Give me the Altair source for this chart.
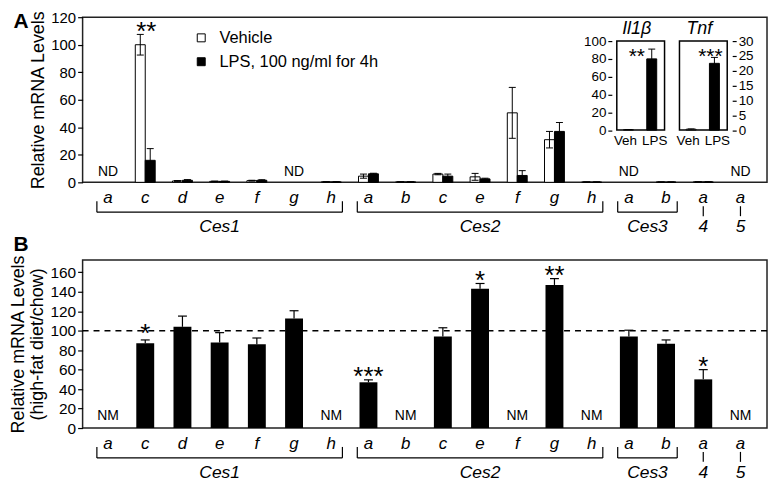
import altair as alt
import pandas as pd

FONT = "Liberation Sans"

# ---------------- data ----------------
LETTERS = ["a", "c", "d", "e", "f", "g", "h",
           "a", "b", "c", "e", "f", "g", "h",
           "a", "b", "a", "a"]
GENES = ["Ces1"] * 7 + ["Ces2"] * 7 + ["Ces3"] * 2 + ["Ces4", "Ces5"]
SERIES = ["Vehicle", "LPS, 100 ng/ml for 4h"]

# Panel A (None = not detected, "ND")
VEHICLE = [None, 100, 1.0, 0.7, 1.2, None, 0.3, 4.5, 0.3, 6.0, 4.0, 50.5, 31.0, 0.2, None, 0.2, 0.3, None]
VEHICLE_ERR = [None, 7.5, 0.3, 0.2, 0.3, None, 0.1, 1.5, 0.1, 0.5, 2.5, 18.5, 6.0, 0.1, None, 0.1, 0.1, None]
LPS = [None, 16.0, 1.5, 0.7, 1.5, None, 0.3, 6.2, 0.3, 4.5, 2.5, 5.0, 37.0, 0.2, None, 0.2, 0.3, None]
LPS_ERR = [None, 8.5, 0.5, 0.2, 0.4, None, 0.1, 0.4, 0.1, 1.5, 0.5, 3.5, 6.5, 0.1, None, 0.1, 0.1, None]
A_STAR_IDX = [1]
A_STAR_TEXT = ["**"]
A_STAR_Y = [114]

# Panel B (None = not measured, "NM")
HFD = [None, 87, 104, 88, 86, 112.5, None, 47, None, 94, 143, None, 147, None, 94, 86.5, 50, None]
HFD_ERR = [None, 3.5, 11, 10, 6.5, 8, None, 2.5, None, 9, 5.5, None, 6.5, None, 6.5, 4, 10, None]
B_STAR_IDX = [1, 7, 10, 12, 16]
B_STAR_TEXT = ["*", "***", "*", "**", "*"]
B_STAR_Y = [104, 60, 158, 163, 70]
REF_LINE = 100

# Insets
INSET_GROUPS = ["Veh", "LPS"]
IL1B = [0.5, 80]
IL1B_ERR = [0.2, 11]
TNF = [0.3, 22.5]
TNF_ERR = [0.1, 2.0]

# ---------------- layout ----------------
W = 688
HA = 166
HB = 169
XDOM = [-0.55, 17.58]
IN_XDOM = [-0.5, 1.55]

idx = list(range(len(LETTERS)))


def xq(field):
    return alt.X(f"{field}:Q", scale=alt.Scale(domain=XDOM, nice=False, zero=False), axis=None)


fill_enc = alt.Fill(
    "series:N",
    scale=alt.Scale(domain=SERIES, range=["white", "black"]),
    legend=alt.Legend(title=None, orient="none", legendX=111, legendY=12.5, symbolType="square",
                      symbolSize=64, symbolStrokeColor="black", symbolStrokeWidth=1,
                      labelFontSize=16.5, labelFont=FONT, labelColor="black", labelOffset=10,
                      rowPadding=7, padding=0),
)


def make_y(domain, values, title, label_size):
    def f(field):
        return alt.Y(f"{field}:Q", scale=alt.Scale(domain=domain, nice=False, zero=True),
                     axis=alt.Axis(values=values, title=title, grid=False, domain=False, tickSize=5,
                                   labelFontSize=label_size, titleFontSize=18, titleLineHeight=20,
                                   labelPadding=2, titlePadding=3, tickColor="black", tickWidth=1.2))
    return f


# group brackets / labels
groups = []
for g in dict.fromkeys(GENES):
    members = [i for i in idx if GENES[i] == g]
    groups.append((g, members[0], members[-1]))
bracket_rows = [dict(start=a - 0.3, end=b + 0.3) for g, a, b in groups if b > a]
bracket_ends = [dict(pos=r["start"]) for r in bracket_rows] + [dict(pos=r["end"]) for r in bracket_rows]
gene_label_rows = [dict(c=(a + b) / 2, t=(g if b > a else g[3:])) for g, a, b in groups]
single_rows = [dict(c=a) for g, a, b in groups if b == a]

letters_df = pd.DataFrame(dict(idx=idx, letter=LETTERS))


def decorations(H, panel_letter, letter_y):
    lt = alt.Chart(letters_df).mark_text(fontSize=17, fontStyle="italic", baseline="middle").encode(
        x=xq("idx"), y=alt.value(H + 16), text="letter:N")
    br = alt.Chart(pd.DataFrame(bracket_rows)).mark_rule(color="black", strokeWidth=1.2).encode(
        x=xq("start"), x2="end:Q", y=alt.value(H + 30))
    be = alt.Chart(pd.DataFrame(bracket_ends)).mark_rule(color="black", strokeWidth=1.2).encode(
        x=xq("pos"), y=alt.value(H + 19), y2=alt.value(H + 30))
    sg = alt.Chart(pd.DataFrame(single_rows)).mark_rule(color="black", strokeWidth=1.2).encode(
        x=xq("c"), y=alt.value(H + 24), y2=alt.value(H + 34))
    gl = alt.Chart(pd.DataFrame(gene_label_rows)).mark_text(fontSize=17.5, fontStyle="italic",
                                                           baseline="middle").encode(
        x=xq("c"), y=alt.value(H + 45), text="t:N")
    pl = alt.Chart(pd.DataFrame(dict(t=[panel_letter]))).mark_text(
        fontSize=21, fontWeight="bold", baseline="middle").encode(
        x=alt.value(-62), y=alt.value(letter_y), text="t:N")
    return [lt, br, be, sg, gl, pl]


# ---------------- panel A ----------------
yA = make_y([0, 120], list(range(0, 121, 20)), "Relative mRNA Levels", 15)


def series_df(vals, errs, name):
    rows = []
    for i, v, e in zip(idx, vals, errs):
        if v is not None:
            rows.append(dict(idx=i, val=v, lo=max(v - e, 0), hi=v + e, series=name))
    return pd.DataFrame(rows)


veh_df = series_df(VEHICLE, VEHICLE_ERR, SERIES[0])
lps_df = series_df(LPS, LPS_ERR, SERIES[1])


def bar_group(df, off):
    bars = alt.Chart(df).mark_bar(stroke="black", strokeWidth=1, width=10, xOffset=off).encode(
        x=xq("idx"), y=yA("val"), fill=fill_enc)
    rule = alt.Chart(df).mark_rule(color="black", strokeWidth=1, xOffset=off).encode(
        x=xq("idx"), y=yA("lo"), y2="hi:Q")
    cap_hi = alt.Chart(df).mark_tick(orient="horizontal", size=7, thickness=1, color="black",
                                     opacity=1, xOffset=off).encode(x=xq("idx"), y=yA("hi"))
    cap_lo = alt.Chart(df).mark_tick(orient="horizontal", size=7, thickness=1, color="black",
                                     opacity=1, xOffset=off).encode(x=xq("idx"), y=yA("lo"))
    return [bars, rule, cap_hi, cap_lo]


nd_df = pd.DataFrame([dict(idx=i, zero=0, t="ND") for i in idx if VEHICLE[i] is None])
nd = alt.Chart(nd_df).mark_text(fontSize=14, baseline="middle", dy=-10).encode(
    x=xq("idx"), y=yA("zero"), text="t:N")
a_star_df = pd.DataFrame(dict(idx=A_STAR_IDX, y=A_STAR_Y, t=A_STAR_TEXT))
a_stars = alt.Chart(a_star_df).mark_text(fontSize=26, baseline="middle", dx=1, dy=7).encode(
    x=xq("idx"), y=yA("y"), text="t:N")

mainA = alt.layer(*bar_group(veh_df, -5), *bar_group(lps_df, 5), nd, a_stars,
                  *decorations(HA, "A", 5))


def inset(vals, errs, ydom, yvals, xrange, yrange, orient, offset, title, star, star_y, star_dx):
    def xi(f):
        return alt.X(f"{f}:Q", scale=alt.Scale(domain=IN_XDOM, range=xrange, nice=False, zero=False),
                     axis=None)

    def yi(f):
        return alt.Y(f"{f}:Q", scale=alt.Scale(domain=ydom, range=yrange, nice=False, zero=True),
                     axis=alt.Axis(orient=orient, offset=offset, values=yvals, title=None, grid=False,
                                   domain=False, tickSize=4, labelFontSize=13.5, labelPadding=2,
                                   tickColor="black", tickWidth=1.2))

    df = pd.DataFrame(dict(idx=[0, 1], grp=INSET_GROUPS, val=vals,
                           lo=[max(v - e, 0) for v, e in zip(vals, errs)],
                           hi=[v + e for v, e in zip(vals, errs)], series=SERIES,
                           base=[ydom[0]] * 2))
    frame = alt.Chart(pd.DataFrame(dict(x0=[IN_XDOM[0]], x1=[IN_XDOM[1]], y0=[ydom[0]], y1=[ydom[1]]))
                      ).mark_rect(fillOpacity=0, stroke="black", strokeWidth=1.5).encode(
        x=xi("x0"), x2="x1:Q", y=yi("y0"), y2="y1:Q")
    bars = alt.Chart(df).mark_bar(stroke="black", strokeWidth=1, width=10).encode(
        x=xi("idx"), y=yi("val"), fill=fill_enc)
    rule = alt.Chart(df).mark_rule(color="black", strokeWidth=1).encode(x=xi("idx"), y=yi("lo"), y2="hi:Q")
    cap = alt.Chart(df).mark_tick(orient="horizontal", size=7, thickness=1, color="black",
                                  opacity=1).encode(x=xi("idx"), y=yi("hi"))
    xl_veh = alt.Chart(df).transform_filter(alt.datum.idx == 0).mark_text(
        fontSize=13.5, baseline="middle", dy=11, dx=-3).encode(x=xi("idx"), y=yi("base"), text="grp:N")
    xl_lps = alt.Chart(df).transform_filter(alt.datum.idx == 1).mark_text(
        fontSize=13.5, baseline="middle", dy=11, dx=3).encode(x=xi("idx"), y=yi("base"), text="grp:N")
    st = alt.Chart(pd.DataFrame(dict(idx=[1], y=[star_y], t=[star]))).mark_text(
        fontSize=21, baseline="middle", dx=star_dx, dy=6).encode(x=xi("idx"), y=yi("y"), text="t:N")
    tt = alt.Chart(pd.DataFrame(dict(x=[(IN_XDOM[0] + IN_XDOM[1]) / 2], y=[ydom[1]], t=[title]))).mark_text(
        fontSize=18, fontStyle="italic", baseline="middle", dy=-12, dx=-4).encode(
        x=xi("x"), y=yi("y"), text="t:N")
    return alt.layer(frame, bars, rule, cap, xl_veh, xl_lps, st, tt)


il1b = inset(IL1B, IL1B_ERR, [0, 100], list(range(0, 101, 20)), [W - 156, W - 98], [113.5, 24],
             "left", -(W - 156), "Il1β", "**", 89, -15)
tnf = inset(TNF, TNF_ERR, [0, 30], list(range(0, 31, 5)), [W - 93, W - 35], [113.5, 24],
            "right", -35, "Tnf", "***", 26.5, -4)

panelA = alt.layer(mainA, il1b, tnf).resolve_scale(x="independent", y="independent").properties(
    width=W, height=HA)

# ---------------- panel B ----------------
yB = make_y([0, 172.7], list(range(0, 161, 20)),
            ["Relative mRNA Levels", "(high-fat diet/chow)"], 15.5)

hfd_df = pd.DataFrame([dict(idx=i, val=v, hi=v + e) for i, v, e in zip(idx, HFD, HFD_ERR) if v is not None])
b_bars = alt.Chart(hfd_df).mark_bar(color="black", width=18).encode(x=xq("idx"), y=yB("val"))
b_rule = alt.Chart(hfd_df).mark_rule(color="black", strokeWidth=1.2).encode(
    x=xq("idx"), y=yB("val"), y2="hi:Q")
b_cap = alt.Chart(hfd_df).mark_tick(orient="horizontal", size=9, thickness=1.2, color="black",
                                    opacity=1).encode(x=xq("idx"), y=yB("hi"))
ref_df = pd.DataFrame(dict(y=[REF_LINE]))
b_ref = alt.Chart(ref_df).mark_rule(color="black", strokeWidth=1.4, strokeDash=[6, 5]).encode(y=yB("y"))
nm_df = pd.DataFrame([dict(idx=i, zero=0, t="NM") for i in idx if HFD[i] is None])
b_nm = alt.Chart(nm_df).mark_text(fontSize=14, baseline="middle", dy=-12).encode(
    x=xq("idx"), y=yB("zero"), text="t:N")
b_star_df = pd.DataFrame(dict(idx=B_STAR_IDX, y=B_STAR_Y, t=B_STAR_TEXT))
b_stars = alt.Chart(b_star_df).mark_text(fontSize=26, baseline="middle", dy=7).encode(
    x=xq("idx"), y=yB("y"), text="t:N")

panelB = alt.layer(b_ref, b_bars, b_rule, b_cap, b_nm, b_stars, *decorations(HB, "B", -15)).properties(
    width=W, height=HB)

chart = alt.vconcat(panelA, panelB, spacing=78, bounds="flush").properties(
    padding={"left": 0, "top": 0, "right": 0, "bottom": 0}
).configure_view(stroke="#222", strokeWidth=1.5).configure_axis(
    labelFont=FONT, titleFont=FONT, labelColor="black", titleColor="black", titleFontWeight="normal"
).configure_text(font=FONT, color="black")

chart.save("out.html", embed_options={"renderer": "svg", "actions": False})
